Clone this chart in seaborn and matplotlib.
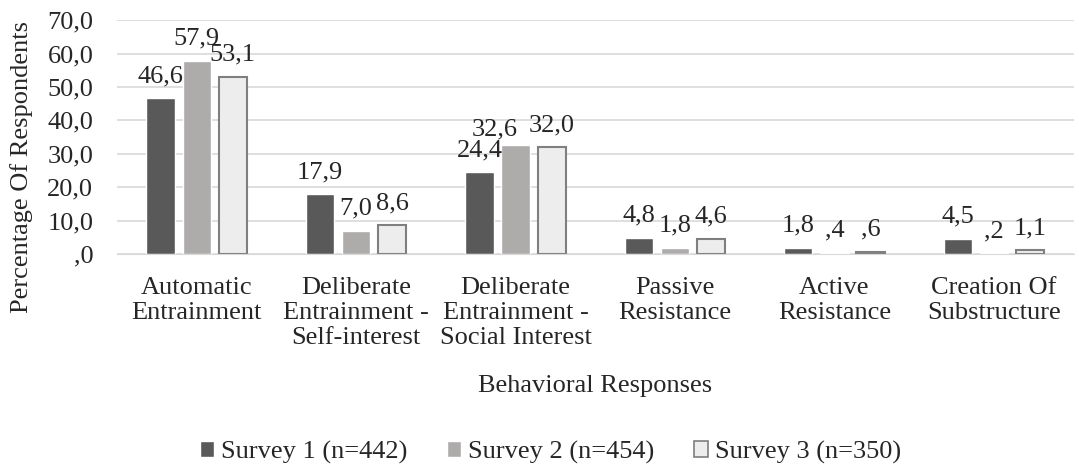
import pandas as pd
import seaborn as sns
import matplotlib.pyplot as plt

categories = ["Automatic\nEntrainment", "Deliberate\nEntrainment -\nSelf-interest",
              "Deliberate\nEntrainment -\nSocial Interest", "Passive\nResistance",
              "Active\nResistance", "Creation Of\nSubstructure"]
surveys = ["Survey 1 (n=442)", "Survey 2 (n=454)", "Survey 3 (n=350)"]
survey1 = [46.6, 17.9, 24.4, 4.8, 1.8, 4.5]
survey2 = [57.9, 7.0, 32.6, 1.8, 0.4, 0.2]
survey3 = [53.1, 8.6, 32.0, 4.6, 0.6, 1.1]
yticks = [0, 10, 20, 30, 40, 50, 60, 70]

df = pd.DataFrame({"cat": categories * 3,
                   "survey": [surveys[0]] * 6 + [surveys[1]] * 6 + [surveys[2]] * 6,
                   "val": survey1 + survey2 + survey3})


def fmt(v):
    s = f"{v:.1f}".replace(".", ",")
    return s[1:] if s.startswith("0") else s


sns.set_style("white")
plt.rcParams["font.family"] = ["Liberation Serif", "DejaVu Serif"]
plt.rcParams["font.size"] = 19

fig, ax = plt.subplots(figsize=(10.79, 4.70), dpi=100)
colors = ["#595959", "#AEAAAA", "#EDEDED"]
sns.barplot(data=df, x="cat", y="val", hue="survey", palette=colors,
            width=0.68, gap=0.22, ax=ax, legend=True)

# edge on the light series
for bar in ax.containers[2]:
    bar.set_edgecolor("#7F7F7F")
    bar.set_linewidth(1.5)

anns = []
for cont in ax.containers:
    anns.append(ax.bar_label(cont, labels=[fmt(b.get_height()) for b in cont], padding=8, fontsize=19))
# excel nudged the crowded label in the social-interest group
anns[1][2].xyann = (-15, 3)

ax.set_ylim(0, 70)
ax.set_yticks(yticks)
ax.set_yticklabels([fmt(t) for t in yticks])
ax.yaxis.grid(True, color="#D9D9D9", linewidth=1.2)
ax.set_axisbelow(True)
for s in ["top", "right", "left"]:
    ax.spines[s].set_visible(False)
ax.spines["bottom"].set_color("#D9D9D9")
ax.tick_params(axis="y", length=0, labelsize=19, pad=17)
ax.tick_params(axis="x", length=0, labelsize=19, pad=16.5)
for t in ax.get_xticklabels():
    t.set_linespacing(1.18)
ax.set_xlabel("Behavioral Responses", fontsize=19, labelpad=19)
ax.set_ylabel("Percentage Of Respondents", fontsize=19)
ax.yaxis.set_label_coords(-0.0877, 0.37)

handles, labels = ax.get_legend_handles_labels()
handles[2].set_edgecolor("#7F7F7F")
handles[2].set_linewidth(1.2)
ax.legend(handles, labels, loc="center", bbox_to_anchor=(0.51, 0.0383), bbox_transform=fig.transFigure,
          ncol=3, frameon=False, fontsize=19, handlelength=0.55, handleheight=0.55,
          handletextpad=0.25, columnspacing=1.5, borderpad=0)

fig.subplots_adjust(left=0.1084, right=0.995, top=0.957, bottom=0.4596)
fig.savefig("out.png", dpi=100)
